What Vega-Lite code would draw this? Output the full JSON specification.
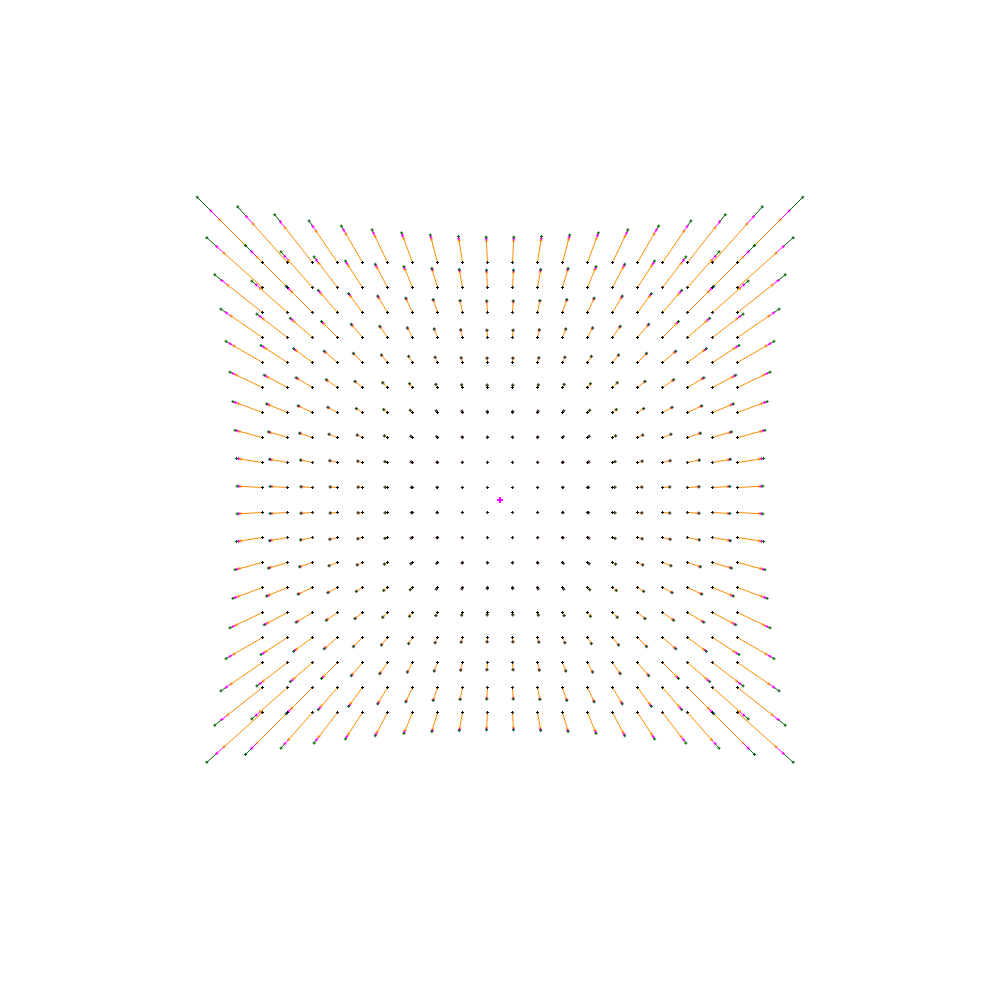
{
"$schema": "https://vega.github.io/schema/vega-lite/v6.json",
"width": 1000, "height": 1000, "padding": 0,
"autosize": {"type": "fit", "contains": "padding"},
"background": "white",
"config": {"view": {"stroke": null}},
"datasets": {
"center": [{"x": 500, "y": 500}],
"grid": [
{"x":262.5,"y":262.5,"ox":219.9,"oy":219.9,"mx":210.8,"my":210.8,"gx":197.2,"gy":197.2},
{"x":287.5,"y":262.5,"ox":253.2,"oy":224.1,"mx":246.6,"my":216.8,"gx":237.7,"gy":206.8},
{"x":312.5,"y":262.5,"ox":285.2,"oy":227.9,"mx":280.5,"my":221.9,"gx":274.7,"gy":214.7},
{"x":337.5,"y":262.5,"ox":316.1,"oy":231.2,"mx":312.8,"my":226.3,"gx":309.1,"gy":220.9},
{"x":362.5,"y":262.5,"ox":346.0,"oy":234.1,"mx":343.7,"my":230.0,"gx":341.3,"gy":226.0},
{"x":387.5,"y":262.5,"ox":375.1,"oy":236.4,"mx":373.5,"my":233.0,"gx":372.1,"gy":229.9},
{"x":412.5,"y":262.5,"ox":403.6,"oy":238.3,"mx":402.5,"my":235.4,"gx":401.6,"gy":232.9},
{"x":437.5,"y":262.5,"ox":431.5,"oy":239.7,"mx":430.8,"my":237.1,"gx":430.3,"gy":235.0},
{"x":462.5,"y":262.5,"ox":459.1,"oy":240.7,"mx":458.7,"my":238.3,"gx":458.4,"gy":236.5},
{"x":487.5,"y":262.5,"ox":486.4,"oy":241.1,"mx":486.3,"my":238.9,"gx":486.2,"gy":237.1},
{"x":512.5,"y":262.5,"ox":513.6,"oy":241.1,"mx":513.7,"my":238.9,"gx":513.8,"gy":237.1},
{"x":537.5,"y":262.5,"ox":540.9,"oy":240.7,"mx":541.3,"my":238.3,"gx":541.6,"gy":236.5},
{"x":562.5,"y":262.5,"ox":568.5,"oy":239.7,"mx":569.2,"my":237.1,"gx":569.7,"gy":235.0},
{"x":587.5,"y":262.5,"ox":596.4,"oy":238.3,"mx":597.5,"my":235.4,"gx":598.4,"gy":232.9},
{"x":612.5,"y":262.5,"ox":624.9,"oy":236.4,"mx":626.5,"my":233.0,"gx":627.9,"gy":229.9},
{"x":637.5,"y":262.5,"ox":654.0,"oy":234.1,"mx":656.3,"my":230.0,"gx":658.7,"gy":226.0},
{"x":662.5,"y":262.5,"ox":683.9,"oy":231.2,"mx":687.2,"my":226.3,"gx":690.9,"gy":220.9},
{"x":687.5,"y":262.5,"ox":714.8,"oy":227.9,"mx":719.5,"my":221.9,"gx":725.3,"gy":214.7},
{"x":712.5,"y":262.5,"ox":746.8,"oy":224.1,"mx":753.4,"my":216.8,"gx":762.3,"gy":206.8},
{"x":737.5,"y":262.5,"ox":780.1,"oy":219.9,"mx":789.2,"my":210.8,"gx":802.8,"gy":197.2},
{"x":262.5,"y":287.5,"ox":224.1,"oy":253.2,"mx":216.8,"my":246.6,"gx":206.8,"gy":237.7},
{"x":287.5,"y":287.5,"ox":257.0,"oy":257.0,"mx":251.8,"my":251.8,"gx":245.5,"gy":245.5},
{"x":312.5,"y":287.5,"ox":288.6,"oy":260.4,"mx":284.9,"my":256.3,"gx":281.0,"gy":251.8},
{"x":337.5,"y":287.5,"ox":319.0,"oy":263.3,"mx":316.5,"my":260.1,"gx":314.1,"gy":256.9},
{"x":362.5,"y":287.5,"ox":348.5,"oy":265.9,"mx":346.8,"my":263.2,"gx":345.4,"gy":261.0},
{"x":387.5,"y":287.5,"ox":377.2,"oy":268.0,"mx":376.0,"my":265.8,"gx":375.2,"gy":264.2},
{"x":412.5,"y":287.5,"ox":405.2,"oy":269.7,"mx":404.4,"my":267.9,"gx":403.9,"gy":266.6},
{"x":437.5,"y":287.5,"ox":432.6,"oy":270.9,"mx":432.2,"my":269.4,"gx":431.9,"gy":268.4},
{"x":462.5,"y":287.5,"ox":459.7,"oy":271.8,"mx":459.5,"my":270.4,"gx":459.3,"gy":269.5},
{"x":487.5,"y":287.5,"ox":486.6,"oy":272.2,"mx":486.5,"my":270.9,"gx":486.5,"gy":270.1},
{"x":512.5,"y":287.5,"ox":513.4,"oy":272.2,"mx":513.5,"my":270.9,"gx":513.5,"gy":270.1},
{"x":537.5,"y":287.5,"ox":540.3,"oy":271.8,"mx":540.5,"my":270.4,"gx":540.7,"gy":269.5},
{"x":562.5,"y":287.5,"ox":567.4,"oy":270.9,"mx":567.8,"my":269.4,"gx":568.1,"gy":268.4},
{"x":587.5,"y":287.5,"ox":594.8,"oy":269.7,"mx":595.6,"my":267.9,"gx":596.1,"gy":266.6},
{"x":612.5,"y":287.5,"ox":622.8,"oy":268.0,"mx":624.0,"my":265.8,"gx":624.8,"gy":264.2},
{"x":637.5,"y":287.5,"ox":651.5,"oy":265.9,"mx":653.2,"my":263.2,"gx":654.6,"gy":261.0},
{"x":662.5,"y":287.5,"ox":681.0,"oy":263.3,"mx":683.5,"my":260.1,"gx":685.9,"gy":256.9},
{"x":687.5,"y":287.5,"ox":711.4,"oy":260.4,"mx":715.1,"my":256.3,"gx":719.0,"gy":251.8},
{"x":712.5,"y":287.5,"ox":743.0,"oy":257.0,"mx":748.2,"my":251.8,"gx":754.5,"gy":245.5},
{"x":737.5,"y":287.5,"ox":775.9,"oy":253.2,"mx":783.2,"my":246.6,"gx":793.2,"gy":237.7},
{"x":262.5,"y":312.5,"ox":227.9,"oy":285.2,"mx":221.9,"my":280.5,"gx":214.7,"gy":274.7},
{"x":287.5,"y":312.5,"ox":260.4,"oy":288.6,"mx":256.3,"my":284.9,"gx":251.8,"gy":281.0},
{"x":312.5,"y":312.5,"ox":291.5,"oy":291.5,"mx":288.8,"my":288.8,"gx":286.1,"gy":286.1},
{"x":337.5,"y":312.5,"ox":321.6,"oy":294.1,"mx":319.7,"my":292.0,"gx":318.2,"gy":290.3},
{"x":362.5,"y":312.5,"ox":350.7,"oy":296.4,"mx":349.5,"my":294.7,"gx":348.6,"gy":293.6},
{"x":387.5,"y":312.5,"ox":378.9,"oy":298.2,"mx":378.2,"my":297.0,"gx":377.7,"gy":296.1},
{"x":412.5,"y":312.5,"ox":406.5,"oy":299.7,"mx":406.1,"my":298.7,"gx":405.8,"gy":298.1},
{"x":437.5,"y":312.5,"ox":433.6,"oy":300.9,"mx":433.3,"my":300.0,"gx":433.2,"gy":299.5},
{"x":462.5,"y":312.5,"ox":460.3,"oy":301.6,"mx":460.2,"my":300.8,"gx":460.1,"gy":300.5},
{"x":487.5,"y":312.5,"ox":486.8,"oy":302.0,"mx":486.8,"my":301.3,"gx":486.7,"gy":300.9},
{"x":512.5,"y":312.5,"ox":513.2,"oy":302.0,"mx":513.2,"my":301.3,"gx":513.3,"gy":300.9},
{"x":537.5,"y":312.5,"ox":539.7,"oy":301.6,"mx":539.8,"my":300.8,"gx":539.9,"gy":300.5},
{"x":562.5,"y":312.5,"ox":566.4,"oy":300.9,"mx":566.7,"my":300.0,"gx":566.8,"gy":299.5},
{"x":587.5,"y":312.5,"ox":593.5,"oy":299.7,"mx":593.9,"my":298.7,"gx":594.2,"gy":298.1},
{"x":612.5,"y":312.5,"ox":621.1,"oy":298.2,"mx":621.8,"my":297.0,"gx":622.3,"gy":296.1},
{"x":637.5,"y":312.5,"ox":649.3,"oy":296.4,"mx":650.5,"my":294.7,"gx":651.4,"gy":293.6},
{"x":662.5,"y":312.5,"ox":678.4,"oy":294.1,"mx":680.3,"my":292.0,"gx":681.8,"gy":290.3},
{"x":687.5,"y":312.5,"ox":708.5,"oy":291.5,"mx":711.2,"my":288.8,"gx":713.9,"gy":286.1},
{"x":712.5,"y":312.5,"ox":739.6,"oy":288.6,"mx":743.7,"my":284.9,"gx":748.2,"gy":281.0},
{"x":737.5,"y":312.5,"ox":772.1,"oy":285.2,"mx":778.1,"my":280.5,"gx":785.3,"gy":274.7},
{"x":262.5,"y":337.5,"ox":231.2,"oy":316.1,"mx":226.3,"my":312.8,"gx":220.9,"gy":309.1},
{"x":287.5,"y":337.5,"ox":263.3,"oy":319.0,"mx":260.1,"my":316.5,"gx":256.9,"gy":314.1},
{"x":312.5,"y":337.5,"ox":294.1,"oy":321.6,"mx":292.0,"my":319.7,"gx":290.3,"gy":318.2},
{"x":337.5,"y":337.5,"ox":323.9,"oy":323.9,"mx":322.5,"my":322.5,"gx":321.5,"gy":321.5},
{"x":362.5,"y":337.5,"ox":352.6,"oy":325.8,"mx":351.7,"my":324.8,"gx":351.2,"gy":324.2},
{"x":387.5,"y":337.5,"ox":380.5,"oy":327.4,"mx":380.0,"my":326.7,"gx":379.7,"gy":326.3},
{"x":412.5,"y":337.5,"ox":407.8,"oy":328.7,"mx":407.5,"my":328.1,"gx":407.3,"gy":327.9},
{"x":437.5,"y":337.5,"ox":434.5,"oy":329.7,"mx":434.3,"my":329.2,"gx":434.2,"gy":329.0},
{"x":462.5,"y":337.5,"ox":460.8,"oy":330.3,"mx":460.8,"my":329.9,"gx":460.7,"gy":329.8},
{"x":487.5,"y":337.5,"ox":487.0,"oy":330.6,"mx":486.9,"my":330.3,"gx":486.9,"gy":330.2},
{"x":512.5,"y":337.5,"ox":513.0,"oy":330.6,"mx":513.1,"my":330.3,"gx":513.1,"gy":330.2},
{"x":537.5,"y":337.5,"ox":539.2,"oy":330.3,"mx":539.2,"my":329.9,"gx":539.3,"gy":329.8},
{"x":562.5,"y":337.5,"ox":565.5,"oy":329.7,"mx":565.7,"my":329.2,"gx":565.8,"gy":329.0},
{"x":587.5,"y":337.5,"ox":592.2,"oy":328.7,"mx":592.5,"my":328.1,"gx":592.7,"gy":327.9},
{"x":612.5,"y":337.5,"ox":619.5,"oy":327.4,"mx":620.0,"my":326.7,"gx":620.3,"gy":326.3},
{"x":637.5,"y":337.5,"ox":647.4,"oy":325.8,"mx":648.3,"my":324.8,"gx":648.8,"gy":324.2},
{"x":662.5,"y":337.5,"ox":676.1,"oy":323.9,"mx":677.5,"my":322.5,"gx":678.5,"gy":321.5},
{"x":687.5,"y":337.5,"ox":705.9,"oy":321.6,"mx":708.0,"my":319.7,"gx":709.7,"gy":318.2},
{"x":712.5,"y":337.5,"ox":736.7,"oy":319.0,"mx":739.9,"my":316.5,"gx":743.1,"gy":314.1},
{"x":737.5,"y":337.5,"ox":768.8,"oy":316.1,"mx":773.7,"my":312.8,"gx":779.1,"gy":309.1},
{"x":262.5,"y":362.5,"ox":234.1,"oy":346.0,"mx":230.0,"my":343.7,"gx":226.0,"gy":341.3},
{"x":287.5,"y":362.5,"ox":265.9,"oy":348.5,"mx":263.2,"my":346.8,"gx":261.0,"gy":345.4},
{"x":312.5,"y":362.5,"ox":296.4,"oy":350.7,"mx":294.7,"my":349.5,"gx":293.6,"gy":348.6},
{"x":337.5,"y":362.5,"ox":325.8,"oy":352.6,"mx":324.8,"my":351.7,"gx":324.2,"gy":351.2},
{"x":362.5,"y":362.5,"ox":354.2,"oy":354.2,"mx":353.6,"my":353.6,"gx":353.3,"gy":353.3},
{"x":387.5,"y":362.5,"ox":381.9,"oy":355.6,"mx":381.5,"my":355.2,"gx":381.4,"gy":355.0},
{"x":412.5,"y":362.5,"ox":408.8,"oy":356.7,"mx":408.6,"my":356.4,"gx":408.6,"gy":356.3},
{"x":437.5,"y":362.5,"ox":435.2,"oy":357.5,"mx":435.1,"my":357.3,"gx":435.1,"gy":357.2},
{"x":462.5,"y":362.5,"ox":461.3,"oy":358.1,"mx":461.2,"my":357.9,"gx":461.2,"gy":357.8},
{"x":487.5,"y":362.5,"ox":487.1,"oy":358.3,"mx":487.1,"my":358.2,"gx":487.1,"gy":358.1},
{"x":512.5,"y":362.5,"ox":512.9,"oy":358.3,"mx":512.9,"my":358.2,"gx":512.9,"gy":358.1},
{"x":537.5,"y":362.5,"ox":538.7,"oy":358.1,"mx":538.8,"my":357.9,"gx":538.8,"gy":357.8},
{"x":562.5,"y":362.5,"ox":564.8,"oy":357.5,"mx":564.9,"my":357.3,"gx":564.9,"gy":357.2},
{"x":587.5,"y":362.5,"ox":591.2,"oy":356.7,"mx":591.4,"my":356.4,"gx":591.4,"gy":356.3},
{"x":612.5,"y":362.5,"ox":618.1,"oy":355.6,"mx":618.5,"my":355.2,"gx":618.6,"gy":355.0},
{"x":637.5,"y":362.5,"ox":645.8,"oy":354.2,"mx":646.4,"my":353.6,"gx":646.7,"gy":353.3},
{"x":662.5,"y":362.5,"ox":674.2,"oy":352.6,"mx":675.2,"my":351.7,"gx":675.8,"gy":351.2},
{"x":687.5,"y":362.5,"ox":703.6,"oy":350.7,"mx":705.3,"my":349.5,"gx":706.4,"gy":348.6},
{"x":712.5,"y":362.5,"ox":734.1,"oy":348.5,"mx":736.8,"my":346.8,"gx":739.0,"gy":345.4},
{"x":737.5,"y":362.5,"ox":765.9,"oy":346.0,"mx":770.0,"my":343.7,"gx":774.0,"gy":341.3},
{"x":262.5,"y":387.5,"ox":236.4,"oy":375.1,"mx":233.0,"my":373.5,"gx":229.9,"gy":372.1},
{"x":287.5,"y":387.5,"ox":268.0,"oy":377.2,"mx":265.8,"my":376.0,"gx":264.2,"gy":375.2},
{"x":312.5,"y":387.5,"ox":298.2,"oy":378.9,"mx":297.0,"my":378.2,"gx":296.1,"gy":377.7},
{"x":337.5,"y":387.5,"ox":327.4,"oy":380.5,"mx":326.7,"my":380.0,"gx":326.3,"gy":379.7},
{"x":362.5,"y":387.5,"ox":355.6,"oy":381.9,"mx":355.2,"my":381.5,"gx":355.0,"gy":381.4},
{"x":387.5,"y":387.5,"ox":383.0,"oy":383.0,"mx":382.8,"my":382.8,"gx":382.7,"gy":382.7},
{"x":412.5,"y":387.5,"ox":409.7,"oy":383.9,"mx":409.6,"my":383.7,"gx":409.5,"gy":383.7},
{"x":437.5,"y":387.5,"ox":435.9,"oy":384.5,"mx":435.8,"my":384.4,"gx":435.8,"gy":384.4},
{"x":462.5,"y":387.5,"ox":461.7,"oy":385.0,"mx":461.6,"my":384.9,"gx":461.6,"gy":384.9},
{"x":487.5,"y":387.5,"ox":487.2,"oy":385.2,"mx":487.2,"my":385.2,"gx":487.2,"gy":385.1},
{"x":512.5,"y":387.5,"ox":512.8,"oy":385.2,"mx":512.8,"my":385.2,"gx":512.8,"gy":385.1},
{"x":537.5,"y":387.5,"ox":538.3,"oy":385.0,"mx":538.4,"my":384.9,"gx":538.4,"gy":384.9},
{"x":562.5,"y":387.5,"ox":564.1,"oy":384.5,"mx":564.2,"my":384.4,"gx":564.2,"gy":384.4},
{"x":587.5,"y":387.5,"ox":590.3,"oy":383.9,"mx":590.4,"my":383.7,"gx":590.5,"gy":383.7},
{"x":612.5,"y":387.5,"ox":617.0,"oy":383.0,"mx":617.2,"my":382.8,"gx":617.3,"gy":382.7},
{"x":637.5,"y":387.5,"ox":644.4,"oy":381.9,"mx":644.8,"my":381.5,"gx":645.0,"gy":381.4},
{"x":662.5,"y":387.5,"ox":672.6,"oy":380.5,"mx":673.3,"my":380.0,"gx":673.7,"gy":379.7},
{"x":687.5,"y":387.5,"ox":701.8,"oy":378.9,"mx":703.0,"my":378.2,"gx":703.9,"gy":377.7},
{"x":712.5,"y":387.5,"ox":732.0,"oy":377.2,"mx":734.2,"my":376.0,"gx":735.8,"gy":375.2},
{"x":737.5,"y":387.5,"ox":763.6,"oy":375.1,"mx":767.0,"my":373.5,"gx":770.1,"gy":372.1},
{"x":262.5,"y":412.5,"ox":238.3,"oy":403.6,"mx":235.4,"my":402.5,"gx":232.9,"gy":401.6},
{"x":287.5,"y":412.5,"ox":269.7,"oy":405.2,"mx":267.9,"my":404.4,"gx":266.6,"gy":403.9},
{"x":312.5,"y":412.5,"ox":299.7,"oy":406.5,"mx":298.7,"my":406.1,"gx":298.1,"gy":405.8},
{"x":337.5,"y":412.5,"ox":328.7,"oy":407.8,"mx":328.1,"my":407.5,"gx":327.9,"gy":407.3},
{"x":362.5,"y":412.5,"ox":356.7,"oy":408.8,"mx":356.4,"my":408.6,"gx":356.3,"gy":408.6},
{"x":387.5,"y":412.5,"ox":383.9,"oy":409.7,"mx":383.7,"my":409.6,"gx":383.7,"gy":409.5},
{"x":412.5,"y":412.5,"ox":410.4,"oy":410.4,"mx":410.3,"my":410.3,"gx":410.3,"gy":410.3},
{"x":437.5,"y":412.5,"ox":436.4,"oy":410.9,"mx":436.3,"my":410.9,"gx":436.3,"gy":410.9},
{"x":462.5,"y":412.5,"ox":462.0,"oy":411.2,"mx":462.0,"my":411.2,"gx":461.9,"gy":411.2},
{"x":487.5,"y":412.5,"ox":487.3,"oy":411.4,"mx":487.3,"my":411.4,"gx":487.3,"gy":411.4},
{"x":512.5,"y":412.5,"ox":512.7,"oy":411.4,"mx":512.7,"my":411.4,"gx":512.7,"gy":411.4},
{"x":537.5,"y":412.5,"ox":538.0,"oy":411.2,"mx":538.0,"my":411.2,"gx":538.1,"gy":411.2},
{"x":562.5,"y":412.5,"ox":563.6,"oy":410.9,"mx":563.7,"my":410.9,"gx":563.7,"gy":410.9},
{"x":587.5,"y":412.5,"ox":589.6,"oy":410.4,"mx":589.7,"my":410.3,"gx":589.7,"gy":410.3},
{"x":612.5,"y":412.5,"ox":616.1,"oy":409.7,"mx":616.3,"my":409.6,"gx":616.3,"gy":409.5},
{"x":637.5,"y":412.5,"ox":643.3,"oy":408.8,"mx":643.6,"my":408.6,"gx":643.7,"gy":408.6},
{"x":662.5,"y":412.5,"ox":671.3,"oy":407.8,"mx":671.9,"my":407.5,"gx":672.1,"gy":407.3},
{"x":687.5,"y":412.5,"ox":700.3,"oy":406.5,"mx":701.3,"my":406.1,"gx":701.9,"gy":405.8},
{"x":712.5,"y":412.5,"ox":730.3,"oy":405.2,"mx":732.1,"my":404.4,"gx":733.4,"gy":403.9},
{"x":737.5,"y":412.5,"ox":761.7,"oy":403.6,"mx":764.6,"my":402.5,"gx":767.1,"gy":401.6},
{"x":262.5,"y":437.5,"ox":239.7,"oy":431.5,"mx":237.1,"my":430.8,"gx":235.0,"gy":430.3},
{"x":287.5,"y":437.5,"ox":270.9,"oy":432.6,"mx":269.4,"my":432.2,"gx":268.4,"gy":431.9},
{"x":312.5,"y":437.5,"ox":300.9,"oy":433.6,"mx":300.0,"my":433.3,"gx":299.5,"gy":433.2},
{"x":337.5,"y":437.5,"ox":329.7,"oy":434.5,"mx":329.2,"my":434.3,"gx":329.0,"gy":434.2},
{"x":362.5,"y":437.5,"ox":357.5,"oy":435.2,"mx":357.3,"my":435.1,"gx":357.2,"gy":435.1},
{"x":387.5,"y":437.5,"ox":384.5,"oy":435.9,"mx":384.4,"my":435.8,"gx":384.4,"gy":435.8},
{"x":412.5,"y":437.5,"ox":410.9,"oy":436.4,"mx":410.9,"my":436.3,"gx":410.9,"gy":436.3},
{"x":437.5,"y":437.5,"ox":436.7,"oy":436.7,"mx":436.7,"my":436.7,"gx":436.7,"gy":436.7},
{"x":462.5,"y":437.5,"ox":462.2,"oy":437.0,"mx":462.2,"my":437.0,"gx":462.2,"gy":437.0},
{"x":487.5,"y":437.5,"ox":487.4,"oy":437.1,"mx":487.4,"my":437.1,"gx":487.4,"gy":437.1},
{"x":512.5,"y":437.5,"ox":512.6,"oy":437.1,"mx":512.6,"my":437.1,"gx":512.6,"gy":437.1},
{"x":537.5,"y":437.5,"ox":537.8,"oy":437.0,"mx":537.8,"my":437.0,"gx":537.8,"gy":437.0},
{"x":562.5,"y":437.5,"ox":563.3,"oy":436.7,"mx":563.3,"my":436.7,"gx":563.3,"gy":436.7},
{"x":587.5,"y":437.5,"ox":589.1,"oy":436.4,"mx":589.1,"my":436.3,"gx":589.1,"gy":436.3},
{"x":612.5,"y":437.5,"ox":615.5,"oy":435.9,"mx":615.6,"my":435.8,"gx":615.6,"gy":435.8},
{"x":637.5,"y":437.5,"ox":642.5,"oy":435.2,"mx":642.7,"my":435.1,"gx":642.8,"gy":435.1},
{"x":662.5,"y":437.5,"ox":670.3,"oy":434.5,"mx":670.8,"my":434.3,"gx":671.0,"gy":434.2},
{"x":687.5,"y":437.5,"ox":699.1,"oy":433.6,"mx":700.0,"my":433.3,"gx":700.5,"gy":433.2},
{"x":712.5,"y":437.5,"ox":729.1,"oy":432.6,"mx":730.6,"my":432.2,"gx":731.6,"gy":431.9},
{"x":737.5,"y":437.5,"ox":760.3,"oy":431.5,"mx":762.9,"my":430.8,"gx":765.0,"gy":430.3},
{"x":262.5,"y":462.5,"ox":240.7,"oy":459.1,"mx":238.3,"my":458.7,"gx":236.5,"gy":458.4},
{"x":287.5,"y":462.5,"ox":271.8,"oy":459.7,"mx":270.4,"my":459.5,"gx":269.5,"gy":459.3},
{"x":312.5,"y":462.5,"ox":301.6,"oy":460.3,"mx":300.8,"my":460.2,"gx":300.5,"gy":460.1},
{"x":337.5,"y":462.5,"ox":330.3,"oy":460.8,"mx":329.9,"my":460.8,"gx":329.8,"gy":460.7},
{"x":362.5,"y":462.5,"ox":358.1,"oy":461.3,"mx":357.9,"my":461.2,"gx":357.8,"gy":461.2},
{"x":387.5,"y":462.5,"ox":385.0,"oy":461.7,"mx":384.9,"my":461.6,"gx":384.9,"gy":461.6},
{"x":412.5,"y":462.5,"ox":411.2,"oy":462.0,"mx":411.2,"my":462.0,"gx":411.2,"gy":461.9},
{"x":437.5,"y":462.5,"ox":437.0,"oy":462.2,"mx":437.0,"my":462.2,"gx":437.0,"gy":462.2},
{"x":462.5,"y":462.5,"ox":462.3,"oy":462.3,"mx":462.3,"my":462.3,"gx":462.3,"gy":462.3},
{"x":487.5,"y":462.5,"ox":487.5,"oy":462.4,"mx":487.5,"my":462.4,"gx":487.5,"gy":462.4},
{"x":512.5,"y":462.5,"ox":512.5,"oy":462.4,"mx":512.5,"my":462.4,"gx":512.5,"gy":462.4},
{"x":537.5,"y":462.5,"ox":537.7,"oy":462.3,"mx":537.7,"my":462.3,"gx":537.7,"gy":462.3},
{"x":562.5,"y":462.5,"ox":563.0,"oy":462.2,"mx":563.0,"my":462.2,"gx":563.0,"gy":462.2},
{"x":587.5,"y":462.5,"ox":588.8,"oy":462.0,"mx":588.8,"my":462.0,"gx":588.8,"gy":461.9},
{"x":612.5,"y":462.5,"ox":615.0,"oy":461.7,"mx":615.1,"my":461.6,"gx":615.1,"gy":461.6},
{"x":637.5,"y":462.5,"ox":641.9,"oy":461.3,"mx":642.1,"my":461.2,"gx":642.2,"gy":461.2},
{"x":662.5,"y":462.5,"ox":669.7,"oy":460.8,"mx":670.1,"my":460.8,"gx":670.2,"gy":460.7},
{"x":687.5,"y":462.5,"ox":698.4,"oy":460.3,"mx":699.2,"my":460.2,"gx":699.5,"gy":460.1},
{"x":712.5,"y":462.5,"ox":728.2,"oy":459.7,"mx":729.6,"my":459.5,"gx":730.5,"gy":459.3},
{"x":737.5,"y":462.5,"ox":759.3,"oy":459.1,"mx":761.7,"my":458.7,"gx":763.5,"gy":458.4},
{"x":262.5,"y":487.5,"ox":241.1,"oy":486.4,"mx":238.9,"my":486.3,"gx":237.1,"gy":486.2},
{"x":287.5,"y":487.5,"ox":272.2,"oy":486.6,"mx":270.9,"my":486.5,"gx":270.1,"gy":486.5},
{"x":312.5,"y":487.5,"ox":302.0,"oy":486.8,"mx":301.3,"my":486.8,"gx":300.9,"gy":486.7},
{"x":337.5,"y":487.5,"ox":330.6,"oy":487.0,"mx":330.3,"my":486.9,"gx":330.2,"gy":486.9},
{"x":362.5,"y":487.5,"ox":358.3,"oy":487.1,"mx":358.2,"my":487.1,"gx":358.1,"gy":487.1},
{"x":387.5,"y":487.5,"ox":385.2,"oy":487.2,"mx":385.2,"my":487.2,"gx":385.1,"gy":487.2},
{"x":412.5,"y":487.5,"ox":411.4,"oy":487.3,"mx":411.4,"my":487.3,"gx":411.4,"gy":487.3},
{"x":437.5,"y":487.5,"ox":437.1,"oy":487.4,"mx":437.1,"my":487.4,"gx":437.1,"gy":487.4},
{"x":462.5,"y":487.5,"ox":462.4,"oy":487.5,"mx":462.4,"my":487.5,"gx":462.4,"gy":487.5},
{"x":487.5,"y":487.5,"ox":487.5,"oy":487.5,"mx":487.5,"my":487.5,"gx":487.5,"gy":487.5},
{"x":512.5,"y":487.5,"ox":512.5,"oy":487.5,"mx":512.5,"my":487.5,"gx":512.5,"gy":487.5},
{"x":537.5,"y":487.5,"ox":537.6,"oy":487.5,"mx":537.6,"my":487.5,"gx":537.6,"gy":487.5},
{"x":562.5,"y":487.5,"ox":562.9,"oy":487.4,"mx":562.9,"my":487.4,"gx":562.9,"gy":487.4},
{"x":587.5,"y":487.5,"ox":588.6,"oy":487.3,"mx":588.6,"my":487.3,"gx":588.6,"gy":487.3},
{"x":612.5,"y":487.5,"ox":614.8,"oy":487.2,"mx":614.8,"my":487.2,"gx":614.9,"gy":487.2},
{"x":637.5,"y":487.5,"ox":641.7,"oy":487.1,"mx":641.8,"my":487.1,"gx":641.9,"gy":487.1},
{"x":662.5,"y":487.5,"ox":669.4,"oy":487.0,"mx":669.7,"my":486.9,"gx":669.8,"gy":486.9},
{"x":687.5,"y":487.5,"ox":698.0,"oy":486.8,"mx":698.7,"my":486.8,"gx":699.1,"gy":486.7},
{"x":712.5,"y":487.5,"ox":727.8,"oy":486.6,"mx":729.1,"my":486.5,"gx":729.9,"gy":486.5},
{"x":737.5,"y":487.5,"ox":758.9,"oy":486.4,"mx":761.1,"my":486.3,"gx":762.9,"gy":486.2},
{"x":262.5,"y":512.5,"ox":241.1,"oy":513.6,"mx":238.9,"my":513.7,"gx":237.1,"gy":513.8},
{"x":287.5,"y":512.5,"ox":272.2,"oy":513.4,"mx":270.9,"my":513.5,"gx":270.1,"gy":513.5},
{"x":312.5,"y":512.5,"ox":302.0,"oy":513.2,"mx":301.3,"my":513.2,"gx":300.9,"gy":513.3},
{"x":337.5,"y":512.5,"ox":330.6,"oy":513.0,"mx":330.3,"my":513.1,"gx":330.2,"gy":513.1},
{"x":362.5,"y":512.5,"ox":358.3,"oy":512.9,"mx":358.2,"my":512.9,"gx":358.1,"gy":512.9},
{"x":387.5,"y":512.5,"ox":385.2,"oy":512.8,"mx":385.2,"my":512.8,"gx":385.1,"gy":512.8},
{"x":412.5,"y":512.5,"ox":411.4,"oy":512.7,"mx":411.4,"my":512.7,"gx":411.4,"gy":512.7},
{"x":437.5,"y":512.5,"ox":437.1,"oy":512.6,"mx":437.1,"my":512.6,"gx":437.1,"gy":512.6},
{"x":462.5,"y":512.5,"ox":462.4,"oy":512.5,"mx":462.4,"my":512.5,"gx":462.4,"gy":512.5},
{"x":487.5,"y":512.5,"ox":487.5,"oy":512.5,"mx":487.5,"my":512.5,"gx":487.5,"gy":512.5},
{"x":512.5,"y":512.5,"ox":512.5,"oy":512.5,"mx":512.5,"my":512.5,"gx":512.5,"gy":512.5},
{"x":537.5,"y":512.5,"ox":537.6,"oy":512.5,"mx":537.6,"my":512.5,"gx":537.6,"gy":512.5},
{"x":562.5,"y":512.5,"ox":562.9,"oy":512.6,"mx":562.9,"my":512.6,"gx":562.9,"gy":512.6},
{"x":587.5,"y":512.5,"ox":588.6,"oy":512.7,"mx":588.6,"my":512.7,"gx":588.6,"gy":512.7},
{"x":612.5,"y":512.5,"ox":614.8,"oy":512.8,"mx":614.8,"my":512.8,"gx":614.9,"gy":512.8},
{"x":637.5,"y":512.5,"ox":641.7,"oy":512.9,"mx":641.8,"my":512.9,"gx":641.9,"gy":512.9},
{"x":662.5,"y":512.5,"ox":669.4,"oy":513.0,"mx":669.7,"my":513.1,"gx":669.8,"gy":513.1},
{"x":687.5,"y":512.5,"ox":698.0,"oy":513.2,"mx":698.7,"my":513.2,"gx":699.1,"gy":513.3},
{"x":712.5,"y":512.5,"ox":727.8,"oy":513.4,"mx":729.1,"my":513.5,"gx":729.9,"gy":513.5},
{"x":737.5,"y":512.5,"ox":758.9,"oy":513.6,"mx":761.1,"my":513.7,"gx":762.9,"gy":513.8},
{"x":262.5,"y":537.5,"ox":240.7,"oy":540.9,"mx":238.3,"my":541.3,"gx":236.5,"gy":541.6},
{"x":287.5,"y":537.5,"ox":271.8,"oy":540.3,"mx":270.4,"my":540.5,"gx":269.5,"gy":540.7},
{"x":312.5,"y":537.5,"ox":301.6,"oy":539.7,"mx":300.8,"my":539.8,"gx":300.5,"gy":539.9},
{"x":337.5,"y":537.5,"ox":330.3,"oy":539.2,"mx":329.9,"my":539.2,"gx":329.8,"gy":539.3},
{"x":362.5,"y":537.5,"ox":358.1,"oy":538.7,"mx":357.9,"my":538.8,"gx":357.8,"gy":538.8},
{"x":387.5,"y":537.5,"ox":385.0,"oy":538.3,"mx":384.9,"my":538.4,"gx":384.9,"gy":538.4},
{"x":412.5,"y":537.5,"ox":411.2,"oy":538.0,"mx":411.2,"my":538.0,"gx":411.2,"gy":538.1},
{"x":437.5,"y":537.5,"ox":437.0,"oy":537.8,"mx":437.0,"my":537.8,"gx":437.0,"gy":537.8},
{"x":462.5,"y":537.5,"ox":462.3,"oy":537.7,"mx":462.3,"my":537.7,"gx":462.3,"gy":537.7},
{"x":487.5,"y":537.5,"ox":487.5,"oy":537.6,"mx":487.5,"my":537.6,"gx":487.5,"gy":537.6},
{"x":512.5,"y":537.5,"ox":512.5,"oy":537.6,"mx":512.5,"my":537.6,"gx":512.5,"gy":537.6},
{"x":537.5,"y":537.5,"ox":537.7,"oy":537.7,"mx":537.7,"my":537.7,"gx":537.7,"gy":537.7},
{"x":562.5,"y":537.5,"ox":563.0,"oy":537.8,"mx":563.0,"my":537.8,"gx":563.0,"gy":537.8},
{"x":587.5,"y":537.5,"ox":588.8,"oy":538.0,"mx":588.8,"my":538.0,"gx":588.8,"gy":538.1},
{"x":612.5,"y":537.5,"ox":615.0,"oy":538.3,"mx":615.1,"my":538.4,"gx":615.1,"gy":538.4},
{"x":637.5,"y":537.5,"ox":641.9,"oy":538.7,"mx":642.1,"my":538.8,"gx":642.2,"gy":538.8},
{"x":662.5,"y":537.5,"ox":669.7,"oy":539.2,"mx":670.1,"my":539.2,"gx":670.2,"gy":539.3},
{"x":687.5,"y":537.5,"ox":698.4,"oy":539.7,"mx":699.2,"my":539.8,"gx":699.5,"gy":539.9},
{"x":712.5,"y":537.5,"ox":728.2,"oy":540.3,"mx":729.6,"my":540.5,"gx":730.5,"gy":540.7},
{"x":737.5,"y":537.5,"ox":759.3,"oy":540.9,"mx":761.7,"my":541.3,"gx":763.5,"gy":541.6},
{"x":262.5,"y":562.5,"ox":239.7,"oy":568.5,"mx":237.1,"my":569.2,"gx":235.0,"gy":569.7},
{"x":287.5,"y":562.5,"ox":270.9,"oy":567.4,"mx":269.4,"my":567.8,"gx":268.4,"gy":568.1},
{"x":312.5,"y":562.5,"ox":300.9,"oy":566.4,"mx":300.0,"my":566.7,"gx":299.5,"gy":566.8},
{"x":337.5,"y":562.5,"ox":329.7,"oy":565.5,"mx":329.2,"my":565.7,"gx":329.0,"gy":565.8},
{"x":362.5,"y":562.5,"ox":357.5,"oy":564.8,"mx":357.3,"my":564.9,"gx":357.2,"gy":564.9},
{"x":387.5,"y":562.5,"ox":384.5,"oy":564.1,"mx":384.4,"my":564.2,"gx":384.4,"gy":564.2},
{"x":412.5,"y":562.5,"ox":410.9,"oy":563.6,"mx":410.9,"my":563.7,"gx":410.9,"gy":563.7},
{"x":437.5,"y":562.5,"ox":436.7,"oy":563.3,"mx":436.7,"my":563.3,"gx":436.7,"gy":563.3},
{"x":462.5,"y":562.5,"ox":462.2,"oy":563.0,"mx":462.2,"my":563.0,"gx":462.2,"gy":563.0},
{"x":487.5,"y":562.5,"ox":487.4,"oy":562.9,"mx":487.4,"my":562.9,"gx":487.4,"gy":562.9},
{"x":512.5,"y":562.5,"ox":512.6,"oy":562.9,"mx":512.6,"my":562.9,"gx":512.6,"gy":562.9},
{"x":537.5,"y":562.5,"ox":537.8,"oy":563.0,"mx":537.8,"my":563.0,"gx":537.8,"gy":563.0},
{"x":562.5,"y":562.5,"ox":563.3,"oy":563.3,"mx":563.3,"my":563.3,"gx":563.3,"gy":563.3},
{"x":587.5,"y":562.5,"ox":589.1,"oy":563.6,"mx":589.1,"my":563.7,"gx":589.1,"gy":563.7},
{"x":612.5,"y":562.5,"ox":615.5,"oy":564.1,"mx":615.6,"my":564.2,"gx":615.6,"gy":564.2},
{"x":637.5,"y":562.5,"ox":642.5,"oy":564.8,"mx":642.7,"my":564.9,"gx":642.8,"gy":564.9},
{"x":662.5,"y":562.5,"ox":670.3,"oy":565.5,"mx":670.8,"my":565.7,"gx":671.0,"gy":565.8},
{"x":687.5,"y":562.5,"ox":699.1,"oy":566.4,"mx":700.0,"my":566.7,"gx":700.5,"gy":566.8},
{"x":712.5,"y":562.5,"ox":729.1,"oy":567.4,"mx":730.6,"my":567.8,"gx":731.6,"gy":568.1},
{"x":737.5,"y":562.5,"ox":760.3,"oy":568.5,"mx":762.9,"my":569.2,"gx":765.0,"gy":569.7},
{"x":262.5,"y":587.5,"ox":238.3,"oy":596.4,"mx":235.4,"my":597.5,"gx":232.9,"gy":598.4},
{"x":287.5,"y":587.5,"ox":269.7,"oy":594.8,"mx":267.9,"my":595.6,"gx":266.6,"gy":596.1},
{"x":312.5,"y":587.5,"ox":299.7,"oy":593.5,"mx":298.7,"my":593.9,"gx":298.1,"gy":594.2},
{"x":337.5,"y":587.5,"ox":328.7,"oy":592.2,"mx":328.1,"my":592.5,"gx":327.9,"gy":592.7},
{"x":362.5,"y":587.5,"ox":356.7,"oy":591.2,"mx":356.4,"my":591.4,"gx":356.3,"gy":591.4},
{"x":387.5,"y":587.5,"ox":383.9,"oy":590.3,"mx":383.7,"my":590.4,"gx":383.7,"gy":590.5},
{"x":412.5,"y":587.5,"ox":410.4,"oy":589.6,"mx":410.3,"my":589.7,"gx":410.3,"gy":589.7},
{"x":437.5,"y":587.5,"ox":436.4,"oy":589.1,"mx":436.3,"my":589.1,"gx":436.3,"gy":589.1},
{"x":462.5,"y":587.5,"ox":462.0,"oy":588.8,"mx":462.0,"my":588.8,"gx":461.9,"gy":588.8},
{"x":487.5,"y":587.5,"ox":487.3,"oy":588.6,"mx":487.3,"my":588.6,"gx":487.3,"gy":588.6},
{"x":512.5,"y":587.5,"ox":512.7,"oy":588.6,"mx":512.7,"my":588.6,"gx":512.7,"gy":588.6},
{"x":537.5,"y":587.5,"ox":538.0,"oy":588.8,"mx":538.0,"my":588.8,"gx":538.1,"gy":588.8},
{"x":562.5,"y":587.5,"ox":563.6,"oy":589.1,"mx":563.7,"my":589.1,"gx":563.7,"gy":589.1},
{"x":587.5,"y":587.5,"ox":589.6,"oy":589.6,"mx":589.7,"my":589.7,"gx":589.7,"gy":589.7},
{"x":612.5,"y":587.5,"ox":616.1,"oy":590.3,"mx":616.3,"my":590.4,"gx":616.3,"gy":590.5},
{"x":637.5,"y":587.5,"ox":643.3,"oy":591.2,"mx":643.6,"my":591.4,"gx":643.7,"gy":591.4},
{"x":662.5,"y":587.5,"ox":671.3,"oy":592.2,"mx":671.9,"my":592.5,"gx":672.1,"gy":592.7},
{"x":687.5,"y":587.5,"ox":700.3,"oy":593.5,"mx":701.3,"my":593.9,"gx":701.9,"gy":594.2},
{"x":712.5,"y":587.5,"ox":730.3,"oy":594.8,"mx":732.1,"my":595.6,"gx":733.4,"gy":596.1},
{"x":737.5,"y":587.5,"ox":761.7,"oy":596.4,"mx":764.6,"my":597.5,"gx":767.1,"gy":598.4},
{"x":262.5,"y":612.5,"ox":236.4,"oy":624.9,"mx":233.0,"my":626.5,"gx":229.9,"gy":627.9},
{"x":287.5,"y":612.5,"ox":268.0,"oy":622.8,"mx":265.8,"my":624.0,"gx":264.2,"gy":624.8},
{"x":312.5,"y":612.5,"ox":298.2,"oy":621.1,"mx":297.0,"my":621.8,"gx":296.1,"gy":622.3},
{"x":337.5,"y":612.5,"ox":327.4,"oy":619.5,"mx":326.7,"my":620.0,"gx":326.3,"gy":620.3},
{"x":362.5,"y":612.5,"ox":355.6,"oy":618.1,"mx":355.2,"my":618.5,"gx":355.0,"gy":618.6},
{"x":387.5,"y":612.5,"ox":383.0,"oy":617.0,"mx":382.8,"my":617.2,"gx":382.7,"gy":617.3},
{"x":412.5,"y":612.5,"ox":409.7,"oy":616.1,"mx":409.6,"my":616.3,"gx":409.5,"gy":616.3},
{"x":437.5,"y":612.5,"ox":435.9,"oy":615.5,"mx":435.8,"my":615.6,"gx":435.8,"gy":615.6},
{"x":462.5,"y":612.5,"ox":461.7,"oy":615.0,"mx":461.6,"my":615.1,"gx":461.6,"gy":615.1},
{"x":487.5,"y":612.5,"ox":487.2,"oy":614.8,"mx":487.2,"my":614.8,"gx":487.2,"gy":614.9},
{"x":512.5,"y":612.5,"ox":512.8,"oy":614.8,"mx":512.8,"my":614.8,"gx":512.8,"gy":614.9},
{"x":537.5,"y":612.5,"ox":538.3,"oy":615.0,"mx":538.4,"my":615.1,"gx":538.4,"gy":615.1},
{"x":562.5,"y":612.5,"ox":564.1,"oy":615.5,"mx":564.2,"my":615.6,"gx":564.2,"gy":615.6},
{"x":587.5,"y":612.5,"ox":590.3,"oy":616.1,"mx":590.4,"my":616.3,"gx":590.5,"gy":616.3},
{"x":612.5,"y":612.5,"ox":617.0,"oy":617.0,"mx":617.2,"my":617.2,"gx":617.3,"gy":617.3},
{"x":637.5,"y":612.5,"ox":644.4,"oy":618.1,"mx":644.8,"my":618.5,"gx":645.0,"gy":618.6},
{"x":662.5,"y":612.5,"ox":672.6,"oy":619.5,"mx":673.3,"my":620.0,"gx":673.7,"gy":620.3},
{"x":687.5,"y":612.5,"ox":701.8,"oy":621.1,"mx":703.0,"my":621.8,"gx":703.9,"gy":622.3},
{"x":712.5,"y":612.5,"ox":732.0,"oy":622.8,"mx":734.2,"my":624.0,"gx":735.8,"gy":624.8},
{"x":737.5,"y":612.5,"ox":763.6,"oy":624.9,"mx":767.0,"my":626.5,"gx":770.1,"gy":627.9},
{"x":262.5,"y":637.5,"ox":234.1,"oy":654.0,"mx":230.0,"my":656.3,"gx":226.0,"gy":658.7},
{"x":287.5,"y":637.5,"ox":265.9,"oy":651.5,"mx":263.2,"my":653.2,"gx":261.0,"gy":654.6},
{"x":312.5,"y":637.5,"ox":296.4,"oy":649.3,"mx":294.7,"my":650.5,"gx":293.6,"gy":651.4},
{"x":337.5,"y":637.5,"ox":325.8,"oy":647.4,"mx":324.8,"my":648.3,"gx":324.2,"gy":648.8},
{"x":362.5,"y":637.5,"ox":354.2,"oy":645.8,"mx":353.6,"my":646.4,"gx":353.3,"gy":646.7},
{"x":387.5,"y":637.5,"ox":381.9,"oy":644.4,"mx":381.5,"my":644.8,"gx":381.4,"gy":645.0},
{"x":412.5,"y":637.5,"ox":408.8,"oy":643.3,"mx":408.6,"my":643.6,"gx":408.6,"gy":643.7},
{"x":437.5,"y":637.5,"ox":435.2,"oy":642.5,"mx":435.1,"my":642.7,"gx":435.1,"gy":642.8},
{"x":462.5,"y":637.5,"ox":461.3,"oy":641.9,"mx":461.2,"my":642.1,"gx":461.2,"gy":642.2},
{"x":487.5,"y":637.5,"ox":487.1,"oy":641.7,"mx":487.1,"my":641.8,"gx":487.1,"gy":641.9},
{"x":512.5,"y":637.5,"ox":512.9,"oy":641.7,"mx":512.9,"my":641.8,"gx":512.9,"gy":641.9},
{"x":537.5,"y":637.5,"ox":538.7,"oy":641.9,"mx":538.8,"my":642.1,"gx":538.8,"gy":642.2},
{"x":562.5,"y":637.5,"ox":564.8,"oy":642.5,"mx":564.9,"my":642.7,"gx":564.9,"gy":642.8},
{"x":587.5,"y":637.5,"ox":591.2,"oy":643.3,"mx":591.4,"my":643.6,"gx":591.4,"gy":643.7},
{"x":612.5,"y":637.5,"ox":618.1,"oy":644.4,"mx":618.5,"my":644.8,"gx":618.6,"gy":645.0},
{"x":637.5,"y":637.5,"ox":645.8,"oy":645.8,"mx":646.4,"my":646.4,"gx":646.7,"gy":646.7},
{"x":662.5,"y":637.5,"ox":674.2,"oy":647.4,"mx":675.2,"my":648.3,"gx":675.8,"gy":648.8},
{"x":687.5,"y":637.5,"ox":703.6,"oy":649.3,"mx":705.3,"my":650.5,"gx":706.4,"gy":651.4},
{"x":712.5,"y":637.5,"ox":734.1,"oy":651.5,"mx":736.8,"my":653.2,"gx":739.0,"gy":654.6},
{"x":737.5,"y":637.5,"ox":765.9,"oy":654.0,"mx":770.0,"my":656.3,"gx":774.0,"gy":658.7},
{"x":262.5,"y":662.5,"ox":231.2,"oy":683.9,"mx":226.3,"my":687.2,"gx":220.9,"gy":690.9},
{"x":287.5,"y":662.5,"ox":263.3,"oy":681.0,"mx":260.1,"my":683.5,"gx":256.9,"gy":685.9},
{"x":312.5,"y":662.5,"ox":294.1,"oy":678.4,"mx":292.0,"my":680.3,"gx":290.3,"gy":681.8},
{"x":337.5,"y":662.5,"ox":323.9,"oy":676.1,"mx":322.5,"my":677.5,"gx":321.5,"gy":678.5},
{"x":362.5,"y":662.5,"ox":352.6,"oy":674.2,"mx":351.7,"my":675.2,"gx":351.2,"gy":675.8},
{"x":387.5,"y":662.5,"ox":380.5,"oy":672.6,"mx":380.0,"my":673.3,"gx":379.7,"gy":673.7},
{"x":412.5,"y":662.5,"ox":407.8,"oy":671.3,"mx":407.5,"my":671.9,"gx":407.3,"gy":672.1},
{"x":437.5,"y":662.5,"ox":434.5,"oy":670.3,"mx":434.3,"my":670.8,"gx":434.2,"gy":671.0},
{"x":462.5,"y":662.5,"ox":460.8,"oy":669.7,"mx":460.8,"my":670.1,"gx":460.7,"gy":670.2},
{"x":487.5,"y":662.5,"ox":487.0,"oy":669.4,"mx":486.9,"my":669.7,"gx":486.9,"gy":669.8},
{"x":512.5,"y":662.5,"ox":513.0,"oy":669.4,"mx":513.1,"my":669.7,"gx":513.1,"gy":669.8},
{"x":537.5,"y":662.5,"ox":539.2,"oy":669.7,"mx":539.2,"my":670.1,"gx":539.3,"gy":670.2},
{"x":562.5,"y":662.5,"ox":565.5,"oy":670.3,"mx":565.7,"my":670.8,"gx":565.8,"gy":671.0},
{"x":587.5,"y":662.5,"ox":592.2,"oy":671.3,"mx":592.5,"my":671.9,"gx":592.7,"gy":672.1},
{"x":612.5,"y":662.5,"ox":619.5,"oy":672.6,"mx":620.0,"my":673.3,"gx":620.3,"gy":673.7},
{"x":637.5,"y":662.5,"ox":647.4,"oy":674.2,"mx":648.3,"my":675.2,"gx":648.8,"gy":675.8},
{"x":662.5,"y":662.5,"ox":676.1,"oy":676.1,"mx":677.5,"my":677.5,"gx":678.5,"gy":678.5},
{"x":687.5,"y":662.5,"ox":705.9,"oy":678.4,"mx":708.0,"my":680.3,"gx":709.7,"gy":681.8},
{"x":712.5,"y":662.5,"ox":736.7,"oy":681.0,"mx":739.9,"my":683.5,"gx":743.1,"gy":685.9},
{"x":737.5,"y":662.5,"ox":768.8,"oy":683.9,"mx":773.7,"my":687.2,"gx":779.1,"gy":690.9},
{"x":262.5,"y":687.5,"ox":227.9,"oy":714.8,"mx":221.9,"my":719.5,"gx":214.7,"gy":725.3},
{"x":287.5,"y":687.5,"ox":260.4,"oy":711.4,"mx":256.3,"my":715.1,"gx":251.8,"gy":719.0},
{"x":312.5,"y":687.5,"ox":291.5,"oy":708.5,"mx":288.8,"my":711.2,"gx":286.1,"gy":713.9},
{"x":337.5,"y":687.5,"ox":321.6,"oy":705.9,"mx":319.7,"my":708.0,"gx":318.2,"gy":709.7},
{"x":362.5,"y":687.5,"ox":350.7,"oy":703.6,"mx":349.5,"my":705.3,"gx":348.6,"gy":706.4},
{"x":387.5,"y":687.5,"ox":378.9,"oy":701.8,"mx":378.2,"my":703.0,"gx":377.7,"gy":703.9},
{"x":412.5,"y":687.5,"ox":406.5,"oy":700.3,"mx":406.1,"my":701.3,"gx":405.8,"gy":701.9},
{"x":437.5,"y":687.5,"ox":433.6,"oy":699.1,"mx":433.3,"my":700.0,"gx":433.2,"gy":700.5},
{"x":462.5,"y":687.5,"ox":460.3,"oy":698.4,"mx":460.2,"my":699.2,"gx":460.1,"gy":699.5},
{"x":487.5,"y":687.5,"ox":486.8,"oy":698.0,"mx":486.8,"my":698.7,"gx":486.7,"gy":699.1},
{"x":512.5,"y":687.5,"ox":513.2,"oy":698.0,"mx":513.2,"my":698.7,"gx":513.3,"gy":699.1},
{"x":537.5,"y":687.5,"ox":539.7,"oy":698.4,"mx":539.8,"my":699.2,"gx":539.9,"gy":699.5},
{"x":562.5,"y":687.5,"ox":566.4,"oy":699.1,"mx":566.7,"my":700.0,"gx":566.8,"gy":700.5},
{"x":587.5,"y":687.5,"ox":593.5,"oy":700.3,"mx":593.9,"my":701.3,"gx":594.2,"gy":701.9},
{"x":612.5,"y":687.5,"ox":621.1,"oy":701.8,"mx":621.8,"my":703.0,"gx":622.3,"gy":703.9},
{"x":637.5,"y":687.5,"ox":649.3,"oy":703.6,"mx":650.5,"my":705.3,"gx":651.4,"gy":706.4},
{"x":662.5,"y":687.5,"ox":678.4,"oy":705.9,"mx":680.3,"my":708.0,"gx":681.8,"gy":709.7},
{"x":687.5,"y":687.5,"ox":708.5,"oy":708.5,"mx":711.2,"my":711.2,"gx":713.9,"gy":713.9},
{"x":712.5,"y":687.5,"ox":739.6,"oy":711.4,"mx":743.7,"my":715.1,"gx":748.2,"gy":719.0},
{"x":737.5,"y":687.5,"ox":772.1,"oy":714.8,"mx":778.1,"my":719.5,"gx":785.3,"gy":725.3},
{"x":262.5,"y":712.5,"ox":224.1,"oy":746.8,"mx":216.8,"my":753.4,"gx":206.8,"gy":762.3},
{"x":287.5,"y":712.5,"ox":257.0,"oy":743.0,"mx":251.8,"my":748.2,"gx":245.5,"gy":754.5},
{"x":312.5,"y":712.5,"ox":288.6,"oy":739.6,"mx":284.9,"my":743.7,"gx":281.0,"gy":748.2},
{"x":337.5,"y":712.5,"ox":319.0,"oy":736.7,"mx":316.5,"my":739.9,"gx":314.1,"gy":743.1},
{"x":362.5,"y":712.5,"ox":348.5,"oy":734.1,"mx":346.8,"my":736.8,"gx":345.4,"gy":739.0},
{"x":387.5,"y":712.5,"ox":377.2,"oy":732.0,"mx":376.0,"my":734.2,"gx":375.2,"gy":735.8},
{"x":412.5,"y":712.5,"ox":405.2,"oy":730.3,"mx":404.4,"my":732.1,"gx":403.9,"gy":733.4},
{"x":437.5,"y":712.5,"ox":432.6,"oy":729.1,"mx":432.2,"my":730.6,"gx":431.9,"gy":731.6},
{"x":462.5,"y":712.5,"ox":459.7,"oy":728.2,"mx":459.5,"my":729.6,"gx":459.3,"gy":730.5},
{"x":487.5,"y":712.5,"ox":486.6,"oy":727.8,"mx":486.5,"my":729.1,"gx":486.5,"gy":729.9},
{"x":512.5,"y":712.5,"ox":513.4,"oy":727.8,"mx":513.5,"my":729.1,"gx":513.5,"gy":729.9},
{"x":537.5,"y":712.5,"ox":540.3,"oy":728.2,"mx":540.5,"my":729.6,"gx":540.7,"gy":730.5},
{"x":562.5,"y":712.5,"ox":567.4,"oy":729.1,"mx":567.8,"my":730.6,"gx":568.1,"gy":731.6},
{"x":587.5,"y":712.5,"ox":594.8,"oy":730.3,"mx":595.6,"my":732.1,"gx":596.1,"gy":733.4},
{"x":612.5,"y":712.5,"ox":622.8,"oy":732.0,"mx":624.0,"my":734.2,"gx":624.8,"gy":735.8},
{"x":637.5,"y":712.5,"ox":651.5,"oy":734.1,"mx":653.2,"my":736.8,"gx":654.6,"gy":739.0},
{"x":662.5,"y":712.5,"ox":681.0,"oy":736.7,"mx":683.5,"my":739.9,"gx":685.9,"gy":743.1},
{"x":687.5,"y":712.5,"ox":711.4,"oy":739.6,"mx":715.1,"my":743.7,"gx":719.0,"gy":748.2},
{"x":712.5,"y":712.5,"ox":743.0,"oy":743.0,"mx":748.2,"my":748.2,"gx":754.5,"gy":754.5},
{"x":737.5,"y":712.5,"ox":775.9,"oy":746.8,"mx":783.2,"my":753.4,"gx":793.2,"gy":762.3}
]
},
"data": {"name": "grid"},
"layer": [
{"mark": {"type": "rule", "color": "#ff8c00", "strokeWidth": 1},
 "encoding": {
  "x": {"field": "x", "type": "quantitative", "scale": {"domain": [0, 1000], "nice": false, "zero": false}, "axis": null},
  "y": {"field": "y", "type": "quantitative", "scale": {"domain": [0, 1000], "nice": false, "zero": false, "reverse": true}, "axis": null},
  "x2": {"field": "ox"}, "y2": {"field": "oy"}}},
{"mark": {"type": "rule", "color": "#ff00ff", "strokeWidth": 1},
 "encoding": {
  "x": {"field": "ox", "type": "quantitative", "axis": null},
  "y": {"field": "oy", "type": "quantitative", "axis": null},
  "x2": {"field": "mx"}, "y2": {"field": "my"}}},
{"mark": {"type": "rule", "color": "#006400", "strokeWidth": 1},
 "encoding": {
  "x": {"field": "mx", "type": "quantitative", "axis": null},
  "y": {"field": "my", "type": "quantitative", "axis": null},
  "x2": {"field": "gx"}, "y2": {"field": "gy"}}},
{"mark": {"type": "point", "shape": "M-1,0L1,0M0,-1L0,1", "filled": false, "size": 9, "strokeWidth": 1, "color": "#ff8c00", "opacity": 1},
 "encoding": {
  "x": {"field": "ox", "type": "quantitative", "axis": null},
  "y": {"field": "oy", "type": "quantitative", "axis": null}}},
{"mark": {"type": "point", "shape": "M-1,0L1,0M0,-1L0,1", "filled": false, "size": 9, "strokeWidth": 1, "color": "#ff00ff", "opacity": 1},
 "encoding": {
  "x": {"field": "mx", "type": "quantitative", "axis": null},
  "y": {"field": "my", "type": "quantitative", "axis": null}}},
{"mark": {"type": "point", "shape": "M-1,0L1,0M0,-1L0,1", "filled": false, "size": 9, "strokeWidth": 1, "color": "#006400", "opacity": 1},
 "encoding": {
  "x": {"field": "gx", "type": "quantitative", "axis": null},
  "y": {"field": "gy", "type": "quantitative", "axis": null}}},
{"mark": {"type": "point", "shape": "M-1,0L1,0M0,-1L0,1", "filled": false, "size": 9, "strokeWidth": 1, "color": "black", "opacity": 1},
 "encoding": {
  "x": {"field": "x", "type": "quantitative", "axis": null},
  "y": {"field": "y", "type": "quantitative", "axis": null}}},
{"data": {"name": "center"},
 "mark": {"type": "point", "shape": "M-1,0L1,0M0,-1L0,1", "filled": false, "size": 36, "strokeWidth": 2, "color": "#ff00ff", "opacity": 1},
 "encoding": {
  "x": {"field": "x", "type": "quantitative", "axis": null},
  "y": {"field": "y", "type": "quantitative", "axis": null}}}
]
}
